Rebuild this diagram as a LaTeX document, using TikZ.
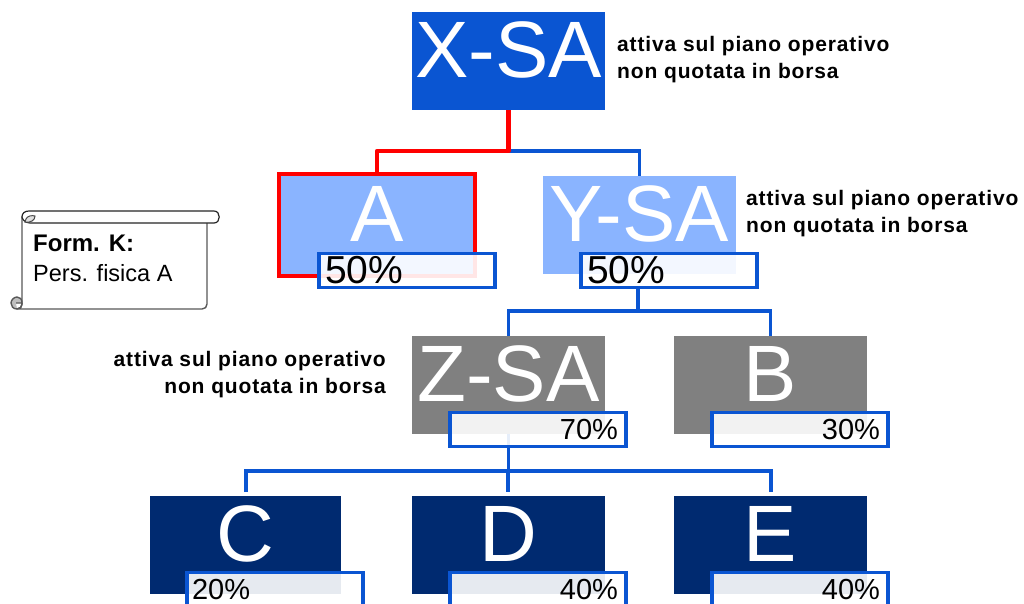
\documentclass[tikz,border=0pt]{standalone}
\usepackage{fontspec}
\setmainfont{Liberation Sans}
\newfontfamily\notefont[LetterSpace=4.1]{Liberation Sans}
\definecolor{bluetop}{HTML}{0A55D2}
\definecolor{bluelight}{HTML}{8AB4FF}
\definecolor{greymid}{HTML}{808080}
\definecolor{navy}{HTML}{002A70}
\definecolor{redline}{HTML}{FF0000}
\tikzset{
  biglabel/.style={text=white,font=\fontsize{80}{80}\selectfont,inner sep=0pt,yshift=11pt,text depth=0pt},
  entity/.style={rectangle,draw=none,inner sep=0pt,minimum width=193pt,minimum height=98pt},
  pctbox/.style={rectangle,draw=bluetop,line width=3.2pt,fill=white,fill opacity=0.9,text opacity=1,
    inner xsep=0pt,inner ysep=0pt,minimum height=34pt,minimum width=176pt},
  pctbig/.style={pctbox,align=left,text width=164pt,font=\fontsize{39}{39}\selectfont},
  pctsmallr/.style={pctbox,align=right,text width=160pt,font=\fontsize{29}{29}\selectfont},
  pctsmalll/.style={pctbox,align=left,text width=166pt,font=\fontsize{29}{29}\selectfont},
  note/.style={font=\fontsize{21}{27}\notefont\bfseries,inner sep=0pt},
  linkblue/.style={draw=bluetop,line width=3.2pt},
  linkred/.style={draw=redline,line width=4.4pt},
  scrollline/.style={draw=black!65,line width=1.4pt},
}
\begin{document}
\begin{tikzpicture}[x=1pt,y=-1pt]
\clip (0,0) rectangle (1024,603);
\fill[white] (0,0) rectangle (1024,603);

\coordinate (busx) at (508,151);
\coordinate (busy) at (638,311);
\coordinate (busz) at (508,471);
\coordinate (tipc) at (246,492);
\coordinate (tipd) at (508,492);
\coordinate (tipe) at (771,492);

\node[entity,fill=bluetop,label={[biglabel]center:X-SA}] (xsa) at (508.5,61) {};
\node[entity,fill=bluelight,label={[biglabel]center:Y-SA}] (ysa) at (639.5,225) {};
\node[entity,fill=bluelight,draw=redline,line width=4pt,minimum width=196pt,minimum height=102pt,label={[biglabel]center:A}] (a) at (377,225) {};
\node[entity,fill=greymid,label={[biglabel]center:Z-SA}] (zsa) at (508.5,385) {};
\node[entity,fill=greymid,label={[biglabel]center:B}] (b) at (770.5,385) {};
\node[entity,fill=navy,minimum width=191pt,label={[biglabel]center:C}] (c) at (245.5,545) {};
\node[entity,fill=navy,label={[biglabel]center:D}] (d) at (508.5,545) {};
\node[entity,fill=navy,label={[biglabel]center:E}] (e) at (770.5,545) {};

\draw[linkblue] (busx) -| (ysa.north);
\draw[linkred,line join=round] (xsa.south) |- (busx) -| (a.north);
\draw[linkblue] (zsa.south) |- (busz);
\draw[linkblue] (tipc) |- (busz) -| (tipe);
\draw[linkblue] (busz) -- (tipd);

\node[pctbig] (pa) at (407,270.5) {50\%};
\node[pctbig] (py) at (669,270.5) {50\%};
\node[pctsmallr] (pz) at (538,429.5) {70\%};
\node[pctsmallr] (pb) at (800,429.5) {30\%};
\node[pctsmalll] (pc) at (275,589.5) {20\%};
\node[pctsmallr] (pd) at (538,589.5) {40\%};
\node[pctsmallr] (pe) at (800,589.5) {40\%};

\draw[linkblue] (py.south -| busy) -- (busy);
\draw[linkblue] (zsa.north) |- (busy) -| (b.north);

\node[note,anchor=north west,align=left] (nx) at (617,36) {attiva sul piano operativo\\non quotata in borsa};
\node[note,anchor=north west,align=left] (ny) at (746,190) {attiva sul piano operativo\\non quotata in borsa};
\node[note,anchor=north east,align=right] (nz) at (386,351) {attiva sul piano operativo\\non quotata in borsa};

% scroll
\draw[scrollline,fill=white,line join=round]
  (22,217) -- (22,304)
  .. controls (22,307) and (20,309) .. (17,309) -- (202,309)
  .. controls (205,309) and (207,307) .. (207,304) -- (207,220) -- (30,220) -- cycle;
\draw[draw=black!85,line width=1.2pt,fill=white]
  (29,211) -- (214,211) .. controls (221,211) and (221,223) .. (214,223) -- (30,223)
  .. controls (24,223) and (22,218) .. (22,217) .. controls (22,213) and (25,211) .. (29,211) -- cycle;
\draw[draw=black!70,line width=1pt,fill=black!12]
  (25,222) .. controls (31,223) and (35,220) .. (35,216)
  .. controls (32,215) and (27,216) .. (26,219) -- cycle;
\draw[scrollline,fill=black!25] (17,309)
  .. controls (13,309) and (11,306) .. (11,303)
  .. controls (11,300) and (14,297) .. (17,297)
  .. controls (20,297) and (22,299) .. (22,303) -- (16,303);
\draw[scrollline] (22,303) .. controls (22,307) and (20,309) .. (17,309);
\node[inner sep=0pt,anchor=west,font=\fontsize{24}{24}\selectfont\bfseries] (fk) at (33,243) {Form. K:};
\node[inner sep=0pt,anchor=west,font=\fontsize{23.5}{24}\selectfont] (pf) at (33,273) {Pers. fisica A};
\end{tikzpicture}
\end{document}
